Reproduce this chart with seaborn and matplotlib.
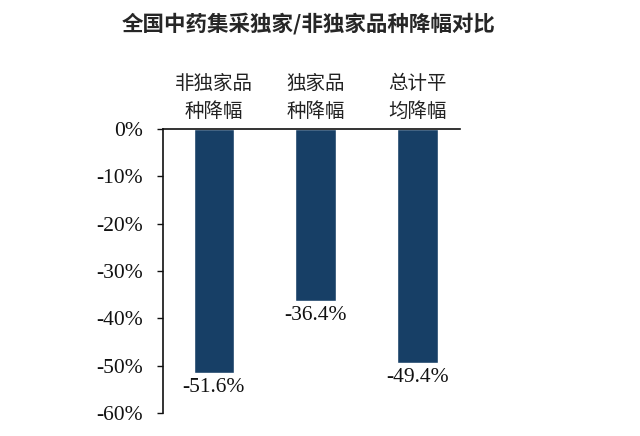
import pandas as pd
import matplotlib
matplotlib.use("Agg")
import matplotlib.pyplot as plt
import seaborn as sns
from matplotlib.ticker import FuncFormatter, MultipleLocator

# chart data
categories = ["非独家品\n种降幅", "独家品\n种降幅", "总计平\n均降幅"]
values = [-51.6, -36.4, -49.4]
title = "全国中药集采独家/非独家品种降幅对比"

df = pd.DataFrame({"cat": categories, "val": values})

sns.set_style("white")
plt.rcParams["font.family"] = ["Liberation Serif", "Noto Sans CJK SC"]
plt.rcParams["axes.unicode_minus"] = False

fig = plt.figure(figsize=(6.4, 4.36), dpi=100)
ax = fig.add_axes([0.2547, 0.0528, 0.4645, 0.6514])

sns.barplot(data=df, x="cat", y="val", color="#173f66", width=0.4,
            saturation=1, ax=ax)

ax.set_ylim(-60, 0)
ax.set_xlim(-0.5, 2.42)
ax.yaxis.set_major_locator(MultipleLocator(10))
ax.yaxis.set_major_formatter(FuncFormatter(lambda v, p: f"{v:.0f}%"))
ax.set_xlabel("")
ax.set_ylabel("")

# category labels sit above the zero line
ax.xaxis.set_ticks_position("top")
ax.tick_params(axis="x", length=0, pad=5)
for lab in ax.get_xticklabels():
    lab.set_fontfamily("Noto Sans CJK SC")
    lab.set_fontsize(14)
    lab.set_linespacing(1.45)
    lab.set_color("#222222")

ax.tick_params(axis="y", left=True, direction="out", length=4.5, width=1,
               labelsize=15.5, colors="#111111", pad=10)

for s in ["right", "bottom"]:
    ax.spines[s].set_visible(False)
for s in ["left", "top"]:
    ax.spines[s].set_color("#111111")
    ax.spines[s].set_linewidth(1.2)

for i, v in enumerate(values):
    ax.text(i, v - 1.0, f"{v:.1f}%", ha="center", va="top", fontsize=15.5,
            color="#111111")

fig.text(0.482, 0.947, title, ha="center", va="center", fontsize=15.5,
         fontweight="bold", family=["Noto Sans CJK SC", "DejaVu Sans"])

fig.savefig("out.png", dpi=100)
